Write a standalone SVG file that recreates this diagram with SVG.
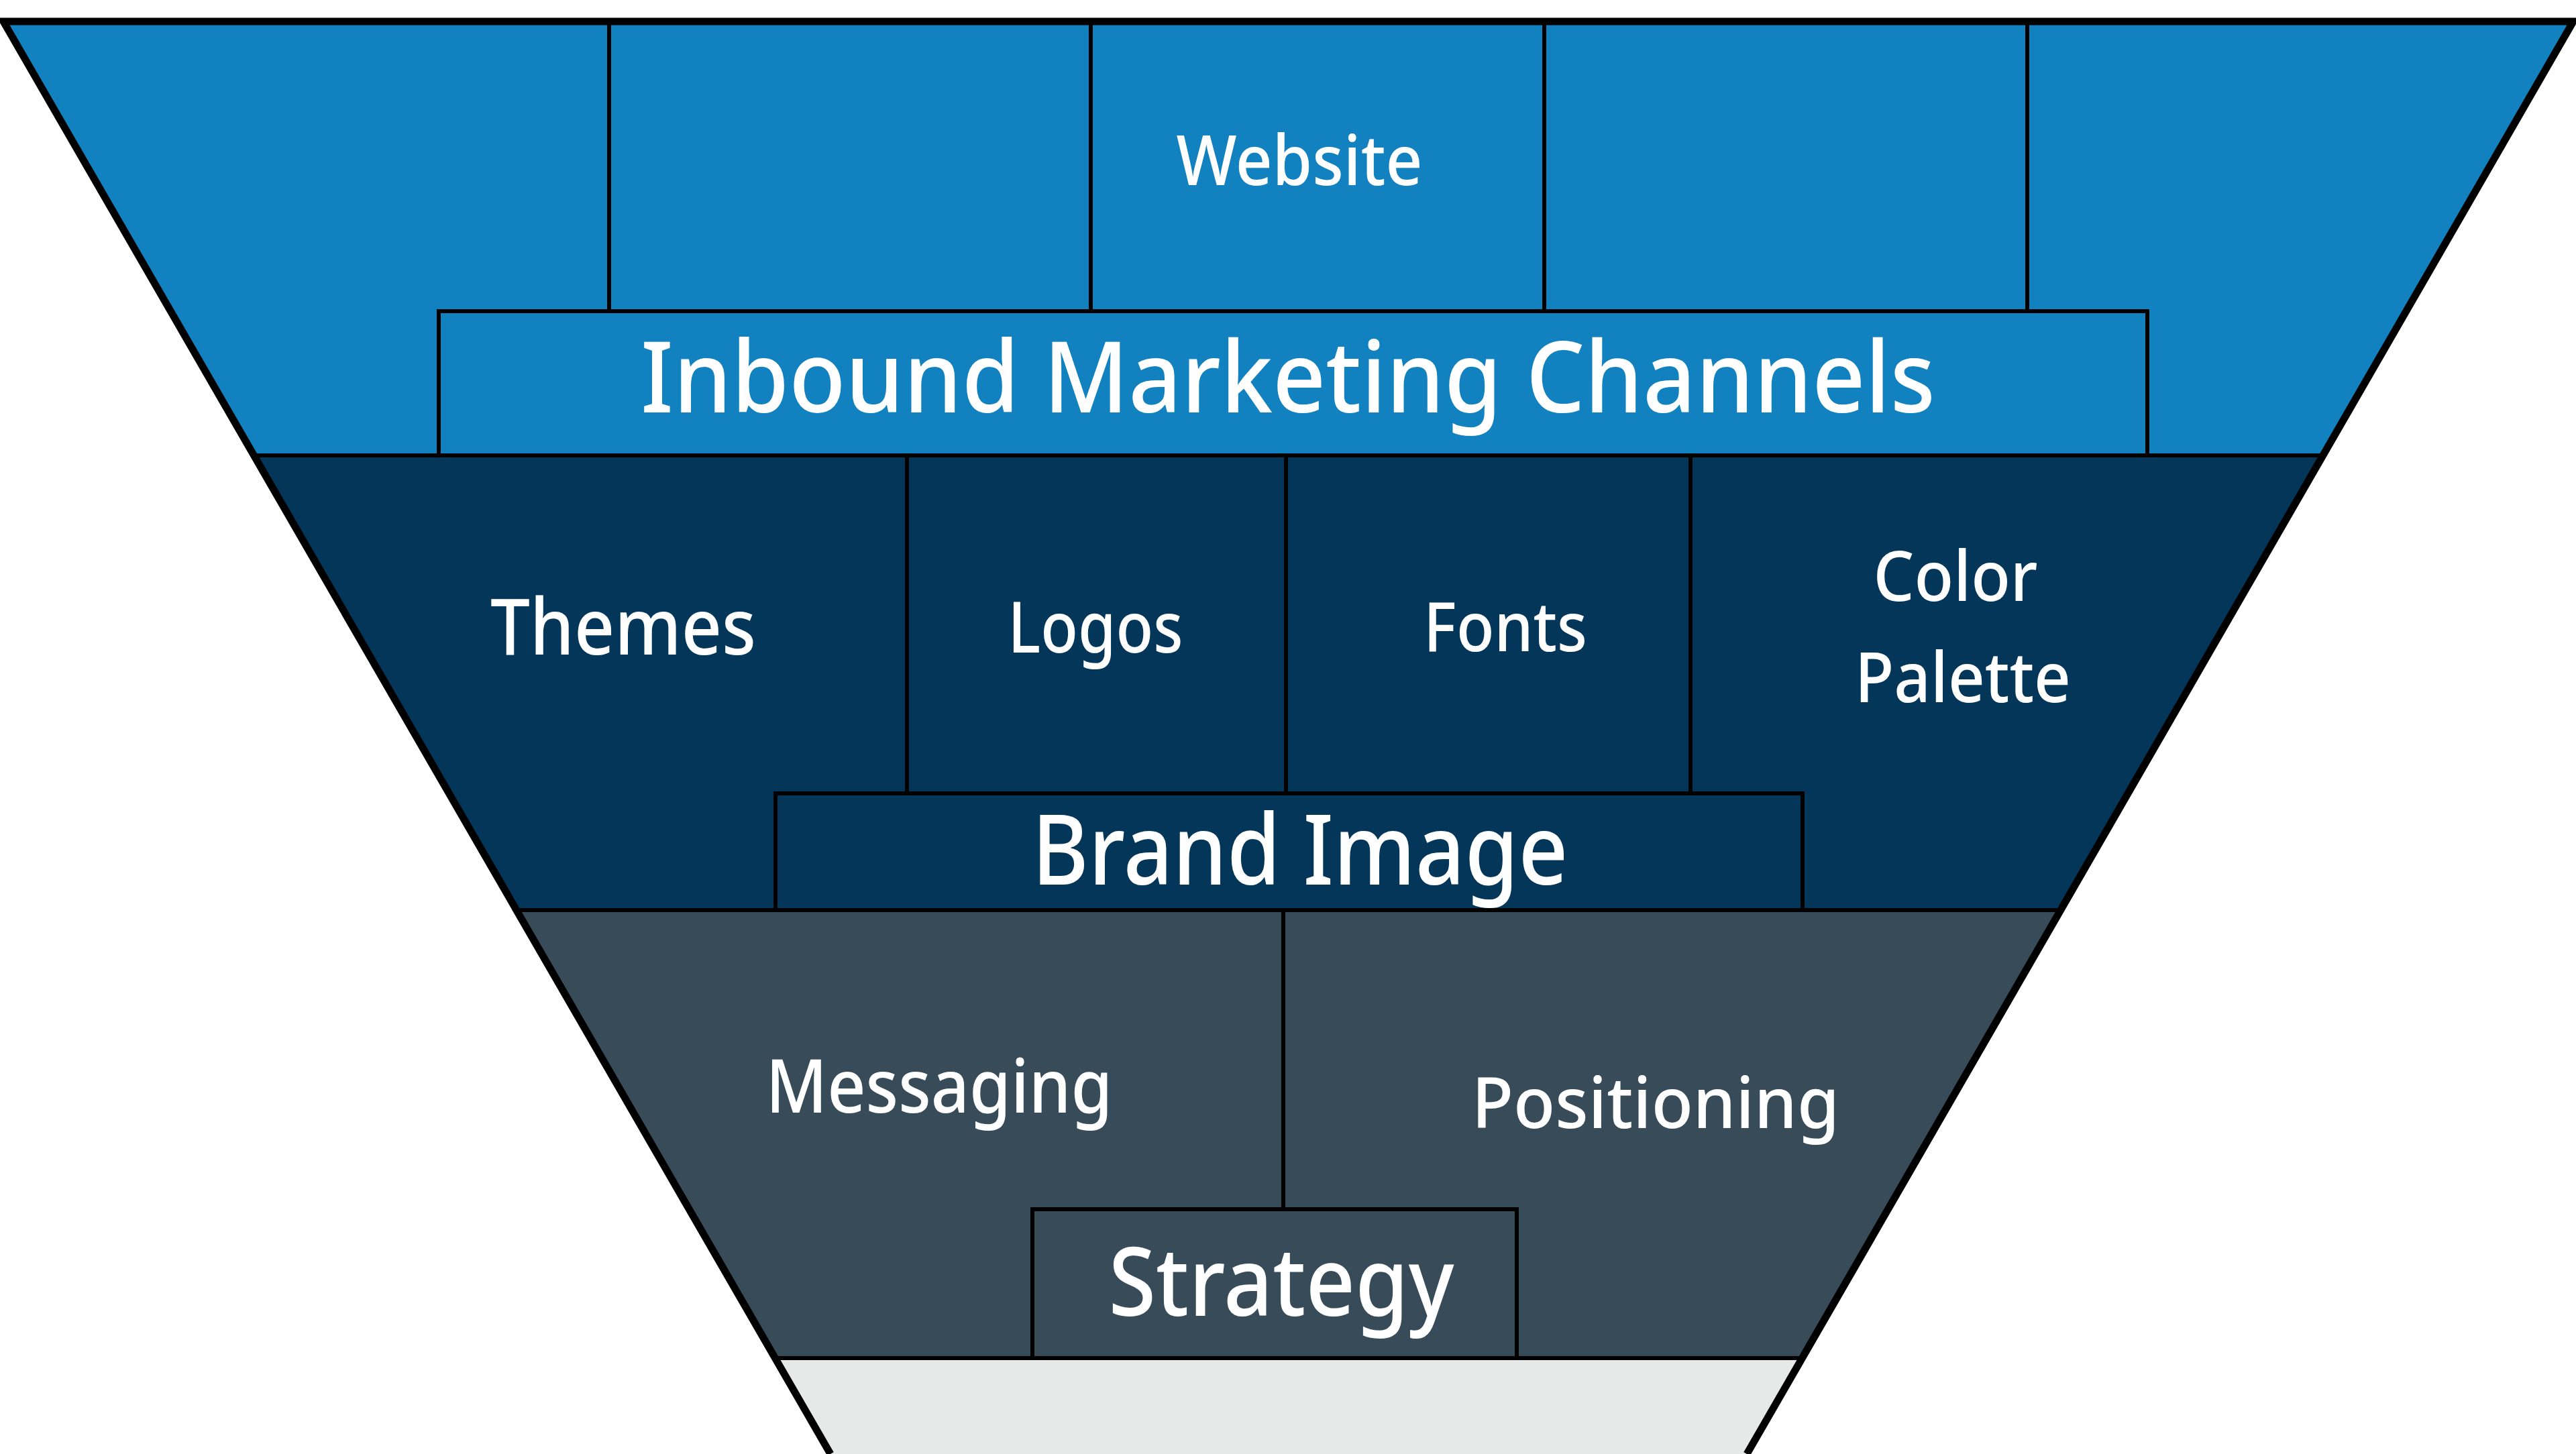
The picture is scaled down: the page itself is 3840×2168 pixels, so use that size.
<svg xmlns="http://www.w3.org/2000/svg" width="3840" height="2168" viewBox="0 0 3840 2168">
<style>
.l1{fill:#1281BF}
.l2{fill:#033659}
.l3{fill:#374B59}
.l4{fill:#E7E9E8}
.div{stroke:#000;stroke-width:6;fill:none}
.box{stroke:#000;stroke-width:6}
.outline{stroke:#000;stroke-width:11;fill:none;stroke-linejoin:miter}
text{font-family:"Noto Sans","Open Sans","Liberation Sans",sans-serif;font-weight:500;fill:#FFFFFF;text-anchor:middle}
</style>
<rect width="3840" height="2168" fill="#FFFFFF"/>
<g id="layer-channels">
<polygon class="l1" points="5,32 3836,32 3463,679 378,679"/>
<rect class="l1 box" x="654" y="464" width="2547" height="215"/>
<text x="1937" y="276" font-size="104" textLength="367" lengthAdjust="spacingAndGlyphs">Website</text>
<text x="1920" y="615" font-size="148" textLength="1930" lengthAdjust="spacingAndGlyphs">Inbound Marketing Channels</text>
</g>
<g id="layer-brand">
<polygon class="l2" points="378,679 3463,679 3071,1357 770,1357"/>
<rect class="l2 box" x="1156" y="1183" width="1531" height="174"/>
<text x="929" y="976" font-size="116" textLength="396" lengthAdjust="spacingAndGlyphs">Themes</text>
<text x="1633" y="973" font-size="105" textLength="261" lengthAdjust="spacingAndGlyphs">Logos</text>
<text x="2244" y="971" font-size="102" textLength="244" lengthAdjust="spacingAndGlyphs">Fonts</text>
<text x="2915" y="896" font-size="104" textLength="245" lengthAdjust="spacingAndGlyphs">Color</text>
<text x="2926" y="1047" font-size="104" textLength="322" lengthAdjust="spacingAndGlyphs">Palette</text>
<text x="1938" y="1319" font-size="146" textLength="799" lengthAdjust="spacingAndGlyphs">Brand Image</text>
</g>
<g id="layer-strategy">
<polygon class="l3" points="770,1357 3071,1357 2686,2025 1155,2025"/>
<rect class="l3 box" x="1539" y="1803" width="722" height="222"/>
<text x="1400" y="1659" font-size="111" textLength="517" lengthAdjust="spacingAndGlyphs">Messaging</text>
<text x="2468" y="1682" font-size="106" textLength="548" lengthAdjust="spacingAndGlyphs">Positioning</text>
<text x="1910" y="1962" font-size="141" textLength="515" lengthAdjust="spacingAndGlyphs">Strategy</text>
</g>
<g id="layer-base">
<polygon class="l4" points="1155,2025 2686,2025 2604,2168 1238,2168"/>
</g>
<g id="connectors">
<line class="div" x1="908" y1="32" x2="908" y2="464"/>
<line class="div" x1="1626" y1="32" x2="1626" y2="464"/>
<line class="div" x1="2302" y1="32" x2="2302" y2="464"/>
<line class="div" x1="3022" y1="32" x2="3022" y2="464"/>
<line class="div" x1="378" y1="679" x2="3463" y2="679"/>
<line class="div" x1="1352" y1="679" x2="1352" y2="1183"/>
<line class="div" x1="1917" y1="679" x2="1917" y2="1183"/>
<line class="div" x1="2520" y1="679" x2="2520" y2="1183"/>
<line class="div" x1="770" y1="1357" x2="3071" y2="1357"/>
<line class="div" x1="1913" y1="1357" x2="1913" y2="1803"/>
<line class="div" x1="1155" y1="2025" x2="2686" y2="2025"/>
<path class="outline" d="M1238,2168 L5,32 L3836,32 L2604,2168"/>
</g>
</svg>
